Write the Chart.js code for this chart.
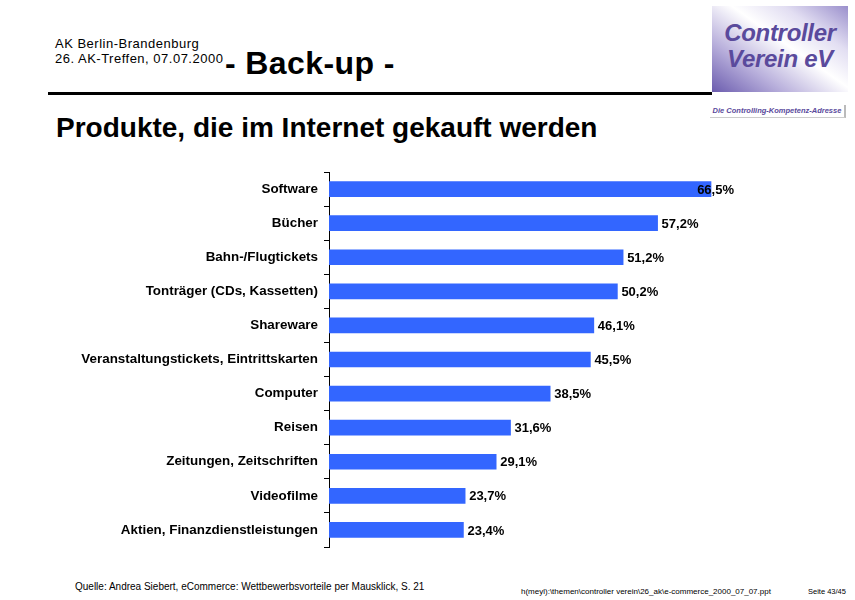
<!DOCTYPE html>
<html>
<head>
<meta charset="utf-8">
<script src="https://cdn.jsdelivr.net/npm/chart.js@4"></script>
<style>
  html, body { margin: 0; padding: 0; background: #fff; }
  body { width: 855px; height: 600px; position: relative; overflow: hidden; font-family: "Liberation Sans", Arial, sans-serif; color: #000; }
  #chart { position: absolute; left: 0; top: 0; }
  .txt { position: absolute; white-space: nowrap; }
  #logo { position: absolute; left: 712px; top: 6px; width: 136px; height: 86px;
    background: linear-gradient(35deg, #6b5cae 0%, #b9b0dc 28%, #ffffff 55%, #e2def2 75%, #9a8fcc 100%); }
  #logo div { position: absolute; width: 100%; text-align: center; font-weight: bold; font-style: italic; color: #5a4a9c; font-size: 24px; letter-spacing: -0.3px; }
  #tag { position: absolute; left: 710px; top: 105px; width: 134px; height: 12px; border-right: 2px solid #bbb; border-bottom: 1px solid #ccc;
    font-size: 7.5px; font-style: italic; font-weight: bold; color: #5a4a9c; text-align: center; line-height: 12px; }
</style>
</head>
<body>
<div class="txt" style="left:55px; top:36px; font-size:13px; letter-spacing:0.5px;">AK Berlin-Brandenburg</div>
<div class="txt" style="left:55px; top:51px; font-size:13px; letter-spacing:0.5px;">26. AK-Treffen, 07.07.2000</div>
<div class="txt" style="left:225px; top:45px; font-size:32px; font-weight:bold; letter-spacing:0.4px;">- Back-up -</div>
<div style="position:absolute; left:48px; top:92px; width:664px; height:3px; background:#000;"></div>
<div id="logo">
  <div style="top:13px;">Controller</div>
  <div style="top:39px;">Verein eV</div>
</div>
<div id="tag">Die Controlling-Kompetenz-Adresse</div>
<div class="txt" style="left:56px; top:112px; font-size:28px; font-weight:bold;">Produkte, die im Internet gekauft werden</div>
<div class="txt" style="left:75px; top:581px; font-size:10px;">Quelle: Andrea Siebert, eCommerce: Wettbewerbsvorteile per Mausklick, S. 21</div>
<div class="txt" style="left:521px; top:587px; font-size:8px;">h(meyl):\themen\controller verein\26_ak\e-commerce_2000_07_07.ppt</div>
<div class="txt" style="left:808px; top:587px; font-size:7.5px;">Seite 43/45</div>
<canvas id="chart" width="855" height="600"></canvas>
<script>
  // Daten
  const kategorien = [
    "Software",
    "Bücher",
    "Bahn-/Flugtickets",
    "Tonträger (CDs, Kassetten)",
    "Shareware",
    "Veranstaltungstickets, Eintrittskarten",
    "Computer",
    "Reisen",
    "Zeitungen, Zeitschriften",
    "Videofilme",
    "Aktien, Finanzdienstleistungen"
  ];
  const anteile = [66.5, 57.2, 51.2, 50.2, 46.1, 45.5, 38.5, 31.6, 29.1, 23.7, 23.4];
  const achseMax = 70.5;

  // Werte rechts neben die Balken schreiben, innerhalb der Zeichenfläche halten
  const wertLabels = {
    id: "wertLabels",
    afterDatasetsDraw(chart) {
      const ctx = chart.ctx;
      const area = chart.chartArea;
      const meta = chart.getDatasetMeta(0);
      ctx.save();
      ctx.font = "bold 13px 'Liberation Sans', Arial, sans-serif";
      ctx.fillStyle = "#000";
      ctx.textBaseline = "middle";
      meta.data.forEach((bar, i) => {
        const text = anteile[i].toFixed(1).replace(".", ",") + "%";
        const w = ctx.measureText(text).width;
        let x = bar.x + 4;
        if (x + w > area.right) x = area.right - w;
        ctx.fillText(text, x, bar.y + 1);
      });
      ctx.restore();
    }
  };

  new Chart(document.getElementById("chart"), {
    type: "bar",
    data: {
      labels: kategorien,
      datasets: [{
        data: anteile,
        backgroundColor: "#3366FF",
        barThickness: 15
      }]
    },
    options: {
      indexAxis: "y",
      responsive: false,
      animation: false,
      layout: { padding: { left: 0, top: 172, right: 121, bottom: 53 } },
      plugins: { legend: { display: false }, tooltip: { enabled: false } },
      scales: {
        x: { display: false, min: 0, max: achseMax },
        y: {
          afterFit(scale) { scale.width = 329; },
          grid: { offset: true, drawOnChartArea: false, drawTicks: true, tickLength: 5, color: "#000" },
          border: { display: true, color: "#000", width: 1 },
          ticks: {
            autoSkip: false,
            color: "#000",
            padding: 6,
            font: { family: "'Liberation Sans', Arial, sans-serif", size: 13.4, weight: "bold" }
          }
        }
      }
    },
    plugins: [wertLabels]
  });
</script>
</body>
</html>
